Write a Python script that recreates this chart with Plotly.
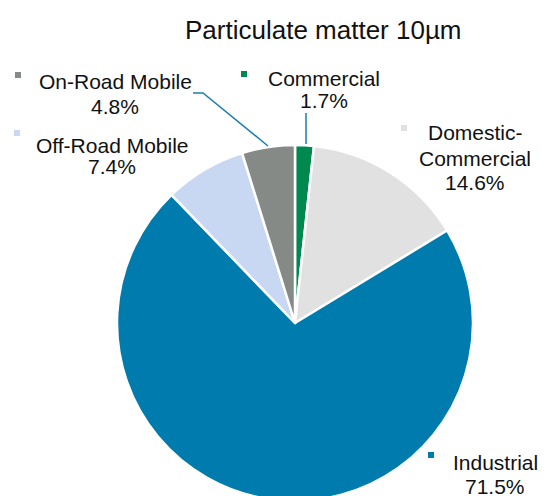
import plotly.graph_objects as go

# dados do gráfico
categorias = ["Commercial", "Domestic-Commercial", "Industrial", "Off-Road Mobile", "On-Road Mobile"]
percentuais = [1.7, 14.6, 71.5, 7.4, 4.8]
rotulos = [["Commercial", "1.7%"], ["Domestic-", "Commercial", "14.6%"], ["Industrial", "71.5%"],
           ["Off-Road Mobile", "7.4%"], ["On-Road Mobile", "4.8%"]]
cores = ["#00894F", "#E0E1E0", "#007BAE", "#C9D8F2", "#858A87"]

W, H = 544, 510  # altura maior que a janela: a parte de baixo da pizza fica cortada


def px(x, y):
    # pixel (a partir do topo) -> coordenada paper
    return x / W, 1 - y / H


fig = go.Figure(go.Pie(
    labels=categorias,
    values=percentuais,
    sort=False,
    direction="clockwise",
    rotation=0,
    marker=dict(colors=cores, line=dict(color="white", width=2.5)),
    textinfo="none",
    hoverinfo="label+percent",
    domain=dict(x=[117 / W, 473 / W], y=[1 - 501 / H, 1 - 145 / H]),
))

# centro x do texto e centro y de cada linha; quadradinhos
pos_texto = [(324, [77, 100]), (475, [132, 157, 181]), (495, [461, 485]), (112, [144, 166]), (115, [81, 105])]
pos_quadrado = [(244, 74), (404, 128), (431, 455), (17, 133), (18, 75)]

tx0, ty0 = px(323, 30)
anotacoes = [dict(text="Particulate matter 10µm", x=tx0, y=ty0, xref="paper", yref="paper",
                  xanchor="center", yanchor="middle", showarrow=False, font=dict(size=26, color="#111"))]
formas = []
for linhas, (tx, tys), (qx, qy), cor in zip(rotulos, pos_texto, pos_quadrado, cores):
    for linha, ty in zip(linhas, tys):
        ax, ay = px(tx, ty + 1)
        anotacoes.append(dict(text=linha, x=ax, y=ay, xref="paper", yref="paper", showarrow=False,
                              xanchor="center", yanchor="middle", font=dict(size=21, color="#111")))
    x0, y0 = px(qx - 3, qy + 3)
    x1, y1 = px(qx + 3, qy - 3)
    formas.append(dict(type="rect", xref="paper", yref="paper", x0=x0, y0=y0, x1=x1, y1=y1,
                       fillcolor=cor, line=dict(width=0)))

# linhas de chamada
a = px(193, 93); b = px(203, 93); c = px(268, 146)
formas.append(dict(type="path", xref="paper", yref="paper",
                   path=f"M {a[0]} {a[1]} L {b[0]} {b[1]} L {c[0]} {c[1]}",
                   line=dict(color="#1A7FB0", width=1.5)))
d = px(306, 113); e = px(306, 144)
formas.append(dict(type="line", xref="paper", yref="paper", x0=d[0], y0=d[1], x1=e[0], y1=e[1],
                   line=dict(color="#1A7FB0", width=1.5)))

fig.update_layout(
    width=W, height=H,
    margin=dict(l=0, r=0, t=0, b=0),
    paper_bgcolor="white",
    showlegend=False,
    font=dict(family="Liberation Sans, Arial, sans-serif"),
    annotations=anotacoes,
    shapes=formas,
)

fig.write_html("out.html", config={"displayModeBar": False},
               post_script="document.body.style.margin='0';document.body.style.overflow='hidden';document.documentElement.style.overflow='hidden';")
